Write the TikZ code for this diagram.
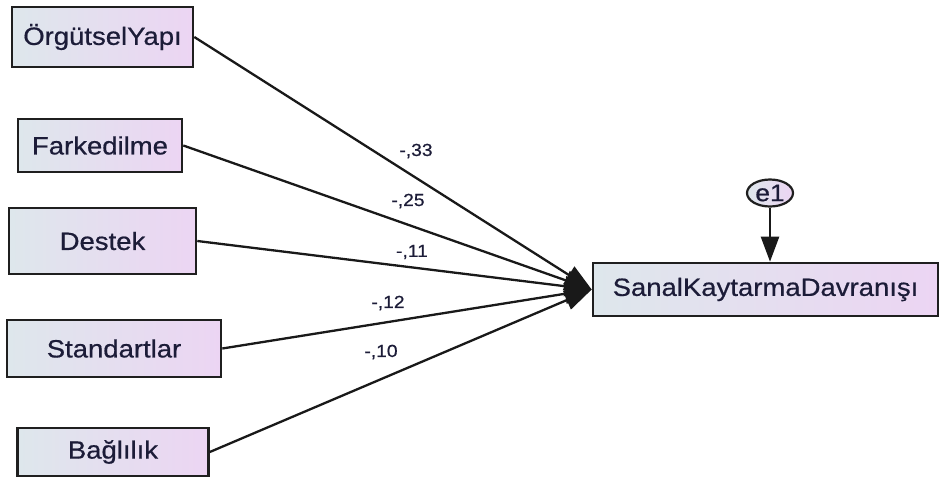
\documentclass[tikz,border=0pt]{standalone}
\usepackage{fontspec}
\setmainfont[FakeStretch=1.1,FakeBold=0.6]{Liberation Sans}
\usetikzlibrary{arrows.meta,shapes.geometric}
\definecolor{boxleft}{RGB}{222,231,236}
\definecolor{boxright}{RGB}{236,213,243}
\definecolor{ink}{RGB}{28,28,56}
\tikzset{
  var/.style={draw=black!88, line width=2.6pt, left color=boxleft, right color=boxright,
    shading angle=90, text=ink, font=\fontsize{25}{28}\selectfont, inner sep=0pt},
  err/.style={ellipse, draw=black!88, line width=2.2pt, left color=boxleft, right color=boxright,
    text=ink, font=\fontsize{24}{26}\selectfont, inner sep=0pt, minimum width=46pt, minimum height=27pt},
  path/.style={line width=2.3pt, black!90, -{Triangle[length=27pt,width=20pt]}},
  coef/.style={text=ink, font=\fontsize{17.5}{20}\selectfont, inner sep=0pt}
}
\begin{document}
\begin{tikzpicture}[x=1pt,y=-1pt]
\useasboundingbox[fill=white] (0,0) rectangle (939,482);
% observed predictors
\node[var, minimum width=181pt, minimum height=60pt] (oy) at (102.5,37) {ÖrgütselYapı};
\node[var, minimum width=164pt, minimum height=53pt] (fa) at (100,145.5) {Farkedilme};
\node[var, minimum width=187pt, minimum height=66pt] (de) at (102.5,241) {Destek};
\node[var, minimum width=214pt, minimum height=57pt] (st) at (114,348.5) {Standartlar};
\node[var, minimum width=191pt, minimum height=48pt] (ba) at (113,452) {Bağlılık};
% outcome and its error term
\node[var, minimum width=345pt, minimum height=53pt] (sk) at (765.5,289.5) {SanalKaytarmaDavranışı};
\node[err] (e1) at (770,193) {e1};
% regression paths
\draw[path] (oy.east) -- (sk.west);
\draw[path] (fa.east) -- (sk.west);
\draw[path] (de.east) -- (sk.west);
\draw[path] (st.east) -- (sk.west);
\draw[path] (ba.east) -- (sk.west);
\draw[line width=2.3pt, black!90, -{Triangle[length=25pt,width=18pt]}] (e1.south) -- (e1.south |- sk.north);
% path coefficients
\node[coef] (c1) at (416,151) {-,33};
\node[coef] (c2) at (408,201) {-,25};
\node[coef] (c3) at (412,252) {-,11};
\node[coef] (c4) at (388,303) {-,12};
\node[coef] (c5) at (381,352) {-,10};
\end{tikzpicture}
\end{document}
